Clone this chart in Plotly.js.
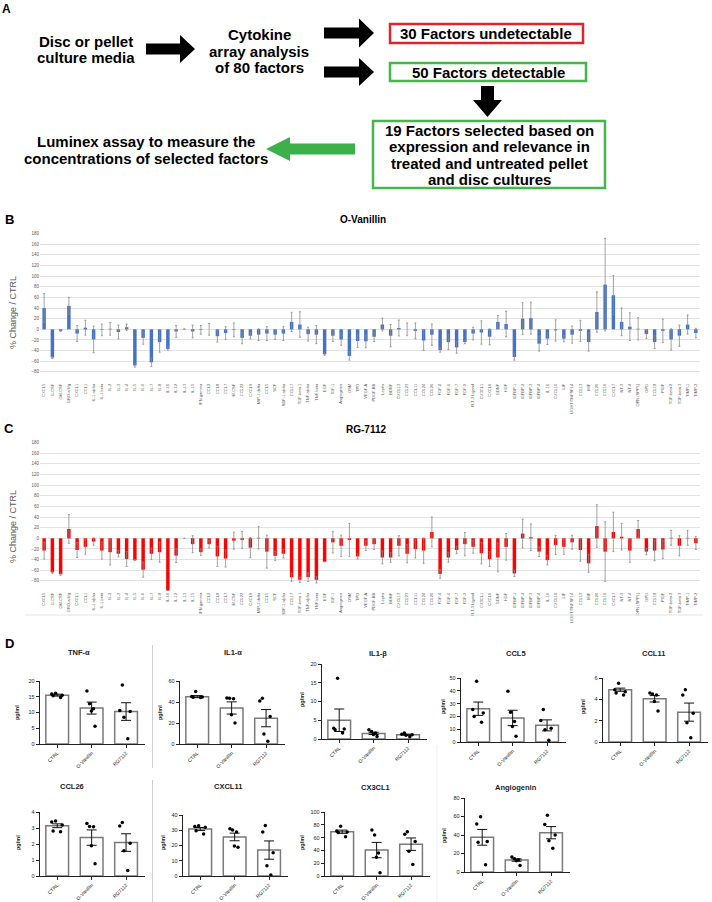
<!DOCTYPE html>
<html><head><meta charset="utf-8">
<script src="https://cdn.plot.ly/plotly-3.0.1.min.js"></script>
<style>html,body{margin:0;padding:0;background:#fff}#chart{width:712px;height:902px}</style>
</head><body><div id="chart"></div>
<script>
// ---------- DATA ----------
const factorNames = ["CXCL5","G-CSF","GM-CSF","GRO-a/b/g","CXCL1","CCL1","IL-1 alpha","IL-1 beta","IL-2","IL-3",
"IL-4","IL-5","IL-6","IL-7","IL-8","IL-10","IL-12","IL-13","IL-15","IFN-gamma",
"CCL2","CCL8","CCL7","M-CSF","CCL22","CXCL9","MIP-1 delta","CCL5","SCF","SDF-1 alpha",
"CCL17","TGF-beta 1","TNF-alpha","TNF-beta","EGF","IGF-1","Angiogenin","OSM","TPO","VEGF-A",
"PDGF-BB","Leptin","BDNF","CXCL13","CCL23","CCL11","CCL24","CCL26","FGF-4","FGF-6",
"FGF-7","FGF-9","FLT-3 Ligand","CX3CL1","CXCL6","GDNF","HGF","IGFBP-1","IGFBP-2","IGFBP-3",
"IGFBP-4","IL-16","CXCL10","LIF","LIGHT/TNFSF14","CCL13","MIF","CCL20","CCL16","CXCL7",
"NT-3","NT-4","OPN (SPP1)","OPG","CCL18","PlGF","TGF-beta 2","TGF-beta 3","TIMP-1","TIMP-2"];

const vanillinChange = [40,-53,-3,44,-8,3,-19,-1,1,-5,
4,-68,-16,-62,-24,-37,-4,0.5,-4,-1,
0,-13,-7,-1,-16,-12,-10,-8,-10,-8,
14,9,-9,-10,-47,-12,-19,-50,-22,-22.5,
-14,9,-12,2.5,0,-3,-21,-10,-39,-24,
-34,-24,-8,-6,-14,14,10,-52,20,21,
-27,-17.5,-2,-17.5,-10,-3,-24,32.5,84,64,
14,5,1,-9,-24,-3,-19,-12,9,-7];
const vanillinError = [27,2,1,16,15,14,25,11,12,13,
6,3,12,8,19,2,11,0,12,8,
11,11,12,13,11,6,11,13,9,13,
18,24,13,17,2,11,11,8,12,12,
9,12,21,15,12,15,19,20,4,14,
11,3,12,22,15,12,24,6,30,30,
14,11,20,6,16,20,17,38,87,37,
26,26,21,8,12,22,20,20,18,9];

const rg7112Change = [-23,-64,-67.5,17.5,-22,-16,-6,-23,-26,-29,
-39,-41,-59,-29,-26,-98,-32.5,0,-11,-26,
-11,-34,-38,-4.5,-3,-17.5,1,-25,-33,-29,
-73,-78,-73,-78,-44,-7.5,-14,-3,-34,-14,
-11,-36,-36,-14,-29,-20,-23,12,-67,-36,
-22,-11,-16,-28,-39,-36,-16,-66,9,2,
-25,-41,-12.5,-16,-7.5,-22,-47,23,-25,12,
3,-23,17.5,-25,-23,-21,1,-14,1,-9];
const rg7112Error = [16,2,2,27,14,14,7,16,24,6,
14,1,14,11,19,0,13,0,16,6,
7,19,16,16,16,19,21,31,9,8,
8,5,8,6,0,20,20,31,5,9,
10,12,9,19,17,17,24,28,8,9,
7,22,12,20,14,27,25,6,27,25,
9,9,18,14,13,21,17,40,56,37,
25,22,16,6,19,17,14,19,14,12];

const groupLabels = ["CTRL","O-Vanillin","RG7112"];
const luminexTitles = ["TNF-α","IL1-α","IL1-β","CCL5","CCL11","CCL26","CXCL11","CX3CL1","Angiogenin"];

const tnfMean = [15.5,11.4,10.3], tnfSem = [0.3,1.9,2.8];
const tnfPts = [[16.1,15.9,15.5,14.8,15.3],[16.8,12.8,11.2,10.5,5.6],[18.7,10.6,10.3,8.5,1.7]];
const il1aMean = [45.1,34.3,24.6], il1aSem = [1.0,5.8,8.2];
const il1aPts = [[49.9,45.2,44.5,44.2,44.8],[43.5,43.8,43.2,27.8,19.9],[43.5,41.0,26.2,9.5,2.5]];
const il1bMean = [5.0,1.5,1.15], il1bSem = [3.0,0.3,0.15];
const il1bPts = [[16.2,2.9,2.7,2.5,1.6],[2.5,2.0,1.6,1.2,0.7],[1.6,1.3,1.15,1.0,0.6]];
const ccl5Mean = [26.0,18.8,13.0], ccl5Sem = [5.2,6.0,4.3];
const ccl5Pts = [[47.4,25.3,22.7,20.0,15.4],[39.6,23.2,16.1,12.2,4.4],[25.3,16.7,9.6,10.8,1.3]];
const ccl11Mean = [4.9,4.05,2.8], ccl11Sem = [0.15,0.3,0.85];
const ccl11Pts = [[5.5,4.9,4.7,4.6,4.4],[4.6,4.5,4.4,3.8,2.9],[4.9,4.4,2.7,1.8,0.4]];
const ccl26Mean = [3.14,2.4,2.09], ccl26Sem = [0.12,0.48,0.55];
const ccl26Pts = [[3.43,3.38,3.18,2.81,2.77],[3.28,3.08,3.1,1.89,0.76],[3.34,3.12,2.05,1.58,0.35]];
const cxcl11Mean = [30.8,25.6,17.0], cxcl11Sem = [1.0,2.5,6.0];
const cxcl11Pts = [[32.9,32.5,32.0,29.7,27.5],[31.0,30.1,28.8,19.6,18.9],[33.1,28.8,15.3,6.7,0.6]];
const cx3cl1Mean = [69.2,40.5,49.7], cx3cl1Sem = [2.5,12.0,9.7];
const cx3cl1Pts = [[77.9,70.3,68.6,67.8,61.5],[71.8,64.1,35.9,29.2,5.1],[69.2,65.1,53.8,38.5,17.9]];
const angMean = [37.5,12.9,42.5], angSem = [8.5,1.3,6.6];
const angPts = [[59.6,51.8,32.9,32.1,7.9],[16.1,14.3,13.2,12.1,7.1],[61.4,51.4,40.0,33.9,25.7]];

const luminexYMax = [20,60,20,50,6,4,40,100,80];
const luminexYStep = [5,20,5,10,2,1,10,20,20];

// ---------- LAYOUT HELPERS ----------
const W = 712, H = 902;
const xd = (l, r) => [l / W, r / W];
const yd = (t, b) => [1 - b / H, 1 - t / H];
const ARIAL = "Liberation Sans, Arial, Helvetica, sans-serif";

const traces = [];
const layout = {
  width: W, height: H, margin: {l: 0, r: 0, t: 0, b: 0},
  paper_bgcolor: "#fff", plot_bgcolor: "rgba(0,0,0,0)",
  showlegend: false, font: {family: ARIAL, color: "#000"},
  shapes: [], annotations: []
};

// ---------- PANELS B & C ----------
function excelPanel(idx, vals, errs, color, top, bot) {
  const xa = idx === 1 ? "x" : "x" + idx, ya = idx === 1 ? "y" : "y" + idx;
  traces.push({type: "bar", x: factorNames, y: vals, xaxis: xa, yaxis: ya, width: 0.42,
    marker: {color: color},
    error_y: {type: "data", array: errs, visible: true, color: "#8a8a8a", thickness: 0.8, width: 1}});
  const xk = idx === 1 ? "xaxis" : "xaxis" + idx, yk = idx === 1 ? "yaxis" : "yaxis" + idx;
  layout[xk] = {domain: xd(40, 700), anchor: ya, type: "category", tickangle: -90,
    tickfont: {size: 4, color: "#595959", family: ARIAL}, showgrid: false, ticks: "", showline: false,
    tickmode: "array", tickvals: factorNames, ticktext: factorNames, fixedrange: true};
  layout[yk] = {domain: yd(top, bot), anchor: xa, range: [-99, 181], tickmode: "linear", tick0: 0, dtick: 20,
    tickfont: {size: 4.5, color: "#595959", family: ARIAL}, gridcolor: "#e2e2e2", gridwidth: 1,
    zeroline: false, showline: false, ticks: "", fixedrange: true};
}
excelPanel(1, vanillinChange, vanillinError, "#4472C4", 233, 382);
excelPanel(2, rg7112Change, rg7112Error, "#FF0000", 442, 591);

// ---------- PANEL D ----------
const luminexMeans = [tnfMean, il1aMean, il1bMean, ccl5Mean, ccl11Mean, ccl26Mean, cxcl11Mean, cx3cl1Mean, angMean];
const luminexSems = [tnfSem, il1aSem, il1bSem, ccl5Sem, ccl11Sem, ccl26Sem, cxcl11Sem, cx3cl1Sem, angSem];
const luminexPts = [tnfPts, il1aPts, il1bPts, ccl5Pts, ccl11Pts, ccl26Pts, cxcl11Pts, cx3cl1Pts, angPts];
const dPos = [
  {ax: 40, top: 681, bot: 744, tx: 79, ty: 652, lx: 17, ly: 713},
  {ax: 180, top: 681, bot: 744, tx: 233, ty: 652, lx: 160, ly: 713},
  {ax: 322, top: 664, bot: 739, tx: 378, ty: 653, lx: 302, ly: 700},
  {ax: 461, top: 678, bot: 742, tx: 516, ty: 653, lx: 443, ly: 707},
  {ax: 603, top: 678, bot: 742, tx: 653, ty: 653, lx: 583, ly: 707},
  {ax: 40, top: 812, bot: 876, tx: 72, ty: 786, lx: 18, ly: 843},
  {ax: 183, top: 815, bot: 876, tx: 228, ty: 786, lx: 163, ly: 843},
  {ax: 325, top: 812, bot: 876, tx: 375, ty: 787, lx: 302, ly: 843},
  {ax: 465, top: 798, bot: 872, tx: 516, ty: 787, lx: 444, ly: 836}
];
dPos.forEach((p, i) => {
  const n = 3 + i, xa = "x" + n, ya = "y" + n;
  traces.push({type: "bar", x: groupLabels, y: luminexMeans[i], xaxis: xa, yaxis: ya, width: 0.66,
    marker: {color: "#ffffff", line: {color: "#7a7a7a", width: 1.5}},
    error_y: {type: "data", array: luminexSems[i], visible: true, color: "#111", thickness: 1, width: 5}});
  const bx = [], by = [];
  luminexPts[i].forEach((arr, g) => arr.forEach(v => { bx.push(groupLabels[g]); by.push(v); }));
  traces.push({type: "box", x: bx, y: by, xaxis: xa, yaxis: ya, boxpoints: "all", jitter: 0.75, pointpos: 0,
    width: 0.5, line: {width: 0, color: "rgba(0,0,0,0)"}, fillcolor: "rgba(0,0,0,0)",
    marker: {color: "#000", size: 3.5}, hoverinfo: "y"});
  layout["xaxis" + n] = {domain: xd(p.ax, p.ax + 105), anchor: ya, type: "category", range: [-0.5, 2.55],
    showline: true, linecolor: "#222", linewidth: 1.3, ticks: "outside", ticklen: 3, tickwidth: 1, tickcolor: "#222",
    tickangle: -45, tickfont: {size: 5, family: ARIAL, color: "#222"}, showgrid: false, zeroline: false, fixedrange: true};
  layout["yaxis" + n] = {domain: yd(p.top, p.bot), anchor: xa, range: [0, luminexYMax[i]], tickmode: "linear", tick0: 0,
    dtick: luminexYStep[i], showline: true, linecolor: "#222", linewidth: 1.3, ticks: "outside", ticklen: 3, tickwidth: 1,
    tickcolor: "#222", tickfont: {size: 5.5, family: ARIAL, color: "#222"}, showgrid: false, zeroline: false, fixedrange: true};
  layout.annotations.push({xref: "x12", yref: "y12", x: p.tx, y: p.ty, text: "<b>" + luminexTitles[i] + "</b>",
    showarrow: false, font: {size: 7.5, family: ARIAL, color: "#222"}, xanchor: "center", yanchor: "middle"});
  layout.annotations.push({xref: "x12", yref: "y12", x: p.lx, y: p.ly, text: "<b>pg/ml</b>", textangle: -90,
    showarrow: false, font: {size: 5.5, family: ARIAL, color: "#222"}, xanchor: "center", yanchor: "middle"});
});

// ---------- OVERLAY (pixel coordinates) for panel A & decorations ----------
traces.push({type: "scatter", x: [], y: [], xaxis: "x12", yaxis: "y12", hoverinfo: "skip"});
layout.xaxis12 = {domain: [0, 1], range: [0, W], visible: false, fixedrange: true, anchor: "y12"};
layout.yaxis12 = {domain: [0, 1], range: [H, 0], visible: false, fixedrange: true, anchor: "x12"};

function ann(text, x, y, size, opts) {
  layout.annotations.push(Object.assign({xref: "x12", yref: "y12", x: x, y: y, text: text, showarrow: false,
    xanchor: "center", yanchor: "middle", font: {size: size, family: ARIAL, color: "#000"}}, opts || {}));
}
function shp(o) { layout.shapes.push(Object.assign({xref: "x12", yref: "y12"}, o)); }
function hArrow(x0, x1, yc, s, h, L, color) { // x1 is the tip
  const d = x1 > x0 ? 1 : -1, hb = x1 - d * L;
  const path = `M${x0},${yc - s / 2} L${hb},${yc - s / 2} L${hb},${yc - h / 2} L${x1},${yc} L${hb},${yc + h / 2} L${hb},${yc + s / 2} L${x0},${yc + s / 2} Z`;
  shp({type: "path", path: path, fillcolor: color, line: {width: 0}});
}
function vArrow(xc, y0, y1, s, h, L, color) {
  const hb = y1 - L;
  const path = `M${xc - s / 2},${y0} L${xc - s / 2},${hb} L${xc - h / 2},${hb} L${xc},${y1} L${xc + h / 2},${hb} L${xc + s / 2},${hb} L${xc + s / 2},${y0} Z`;
  shp({type: "path", path: path, fillcolor: color, line: {width: 0}});
}

// Panel A flowchart
hArrow(146, 195, 49, 11, 28, 15, "#000");
hArrow(324, 374, 33, 11, 29, 15, "#000");
hArrow(324, 374, 72, 11, 28, 15, "#000");
vArrow(487.5, 86, 117, 13, 29, 17, "#000");
hArrow(355, 266, 149, 11, 24, 24, "#3db04a");
shp({type: "rect", x0: 390, x1: 583, y0: 24, y1: 43, line: {color: "#e2232b", width: 2.5}, fillcolor: "rgba(0,0,0,0)"});
shp({type: "rect", x0: 390, x1: 586, y0: 63, y1: 81, line: {color: "#45b649", width: 2.5}, fillcolor: "rgba(0,0,0,0)"});
shp({type: "rect", x0: 373, x1: 605, y0: 121, y1: 188, line: {color: "#45b649", width: 2.5}, fillcolor: "rgba(0,0,0,0)"});
const nf = (t, x, y) => ann("<b>" + t + "</b>", x, y, 15);
nf("Disc or pellet", 86, 41); nf("culture media", 86, 57);
nf("Cytokine", 259, 34); nf("array analysis", 259, 51); nf("of 80 factors", 259, 67);
nf("30 Factors undetectable", 486, 33.5); nf("50 Factors detectable", 488, 72);
nf("19 Factors selected based on", 489, 130); nf("expression and relevance in", 489, 146.5);
nf("treated and untreated pellet", 489, 163); nf("and disc cultures", 489, 179.5);
nf("Luminex assay to measure the", 146, 141); nf("concentrations of selected factors", 146, 158);

// Panel letters & titles
ann("<b>A</b>", 6, 9, 12); ann("<b>B</b>", 9, 219, 13); ann("<b>C</b>", 9, 428, 13); ann("<b>D</b>", 9, 643, 13);
ann("<b>O-Vanillin</b>", 363, 219, 10); ann("<b>RG-7112</b>", 366, 429, 10);
ann("% Change / CTRL", 13, 313, 9, {textangle: -90, font: {size: 9, family: ARIAL, color: "#595959"}});
ann("% Change / CTRL", 13, 527, 9, {textangle: -90, font: {size: 9, family: ARIAL, color: "#595959"}});

// separators
shp({type: "line", x0: 25, x1: 703, y0: 615, y1: 615, line: {color: "#e4e4e4", width: 1}, layer: "below"});
shp({type: "line", x0: 152.5, x1: 152.5, y0: 645, y1: 768, line: {color: "#cfcfcf", width: 1}});
shp({type: "line", x0: 152.5, x1: 152.5, y0: 780, y1: 902, line: {color: "#cfcfcf", width: 1}});
shp({type: "line", x0: 437, x1: 437, y0: 745, y1: 902, line: {color: "#eeeeee", width: 1}});

Plotly.newPlot("chart", traces, layout, {staticPlot: true, displayModeBar: false});
</script></body></html>
